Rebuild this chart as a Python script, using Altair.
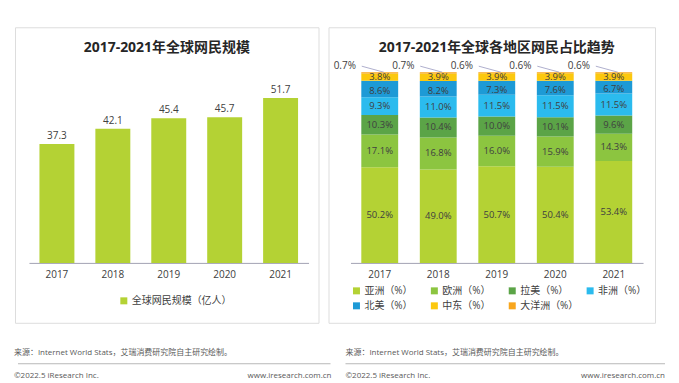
import altair as alt
import pandas as pd

FONT = "Open Sans, Noto Sans CJK SC"

# ---------------- data ----------------
years = ["2017", "2018", "2019", "2020", "2021"]
netizens = [37.3, 42.1, 45.4, 45.7, 51.7]
left_series = "全球网民规模（亿人）"

regions = ["亚洲（%）", "欧洲（%）", "拉美（%）", "非洲（%）", "北美（%）", "中东（%）", "大洋洲（%）"]
asia = [50.2, 49.0, 50.7, 50.4, 53.4]
europe = [17.1, 16.8, 16.0, 15.9, 14.3]
latam = [10.3, 10.4, 10.0, 10.1, 9.6]
africa = [9.3, 11.0, 11.5, 11.5, 11.5]
namerica = [8.6, 8.2, 7.3, 7.6, 6.7]
mideast = [3.8, 3.9, 3.9, 3.9, 3.9]
oceania = [0.7, 0.7, 0.6, 0.6, 0.6]
region_colors = ["#b4d234", "#8cc540", "#5ba447", "#2bbbee", "#1d9ad6", "#fcc80e", "#f8a61d"]

left_title = "2017-2021年全球网民规模"
right_title = "2017-2021年全球各地区网民占比趋势"
source_text = "来源：Internet World Stats，艾瑞消费研究院自主研究绘制。"
copyright_text = "©2022.5 iResearch Inc."
site_text = "www.iresearch.com.cn"

PANEL_H = 296
LEFT_W = 304
RIGHT_W = 327
BORDER = "#c8dd85"
AXIS_C = "#a3a3b3"
TEXT_C = "#404040"
FOOT_C = "#595959"

# ---------------- left panel ----------------
left_df = pd.DataFrame({"year": years, "value": netizens, "series": left_series})

xL = alt.X("year:N", title=None,
           scale=alt.Scale(range=[14, 294], paddingInner=0.375, paddingOuter=0.1875),
           axis=alt.Axis(labelAngle=0, offset=-60, ticks=False, domainColor=AXIS_C,
                         labelFontSize=10, labelColor=TEXT_C, labelFont=FONT, labelPadding=7))
yL = alt.Y("value:Q", scale=alt.Scale(domain=[0, 50], range=[236, 76.4], nice=False), axis=None)

left_bars = alt.Chart(left_df).mark_bar().encode(
    x=xL, y=yL,
    color=alt.Color("series:N", scale=alt.Scale(domain=[left_series], range=[region_colors[0]]),
                    legend=alt.Legend(orient="none", legendX=104, legendY=269, title=None,
                                      symbolType="square", symbolSize=49, symbolStrokeWidth=0,
                                      labelFontSize=10, labelColor=TEXT_C, labelFont=FONT,
                                      labelOffset=3, padding=0)))
left_labels = alt.Chart(left_df).mark_text(dy=-8, fontSize=10, color=TEXT_C, font=FONT).encode(
    x=alt.X("year:N"), y=alt.Y("value:Q"), text=alt.Text("value:Q", format=".1f"))


def footer(src_x, line_x1, line_x2, copy_x, site_x):
    src = alt.Chart(pd.DataFrame({"t": [source_text]})).mark_text(
        align="left", baseline="middle", fontSize=8, color=FOOT_C, font=FONT
    ).encode(x=alt.value(src_x), y=alt.value(326), text="t:N")
    line = alt.Chart(pd.DataFrame({"t": [0]})).mark_rule(color="#a6a6a6", strokeWidth=0.8).encode(
        x=alt.value(line_x1), x2=alt.value(line_x2), y=alt.value(337))
    cp = alt.Chart(pd.DataFrame({"t": [copyright_text]})).mark_text(
        align="left", baseline="middle", fontSize=8, color=FOOT_C, font=FONT
    ).encode(x=alt.value(copy_x), y=alt.value(349), text="t:N")
    site = alt.Chart(pd.DataFrame({"t": [site_text]})).mark_text(
        align="right", baseline="middle", fontSize=8, color=FOOT_C, font=FONT
    ).encode(x=alt.value(site_x), y=alt.value(349), text="t:N")
    return [src, line, cp, site]


left = alt.layer(left_bars, left_labels, *footer(-1, 3, 316, -1, 317)).properties(
    width=LEFT_W, height=PANEL_H,
    title=alt.TitleParams(left_title, fontSize=14, fontWeight="bold", font=FONT, color="#262626",
                          anchor="middle", frame="group", offset=-28))

# ---------------- right panel ----------------
series_list = [asia, europe, latam, africa, namerica, mideast, oceania]
rows = []
for i, yr in enumerate(years):
    for k, (reg, vals) in enumerate(zip(regions, series_list)):
        rows.append({"year": yr, "region": reg, "value": vals[i], "order": k,
                     "label": f"{vals[i]:.1f}%"})
right_df = pd.DataFrame(rows)

xR = alt.X("year:N", title=None,
           scale=alt.Scale(range=[22, 315], paddingInner=0.37, paddingOuter=0.185),
           axis=alt.Axis(labelAngle=0, offset=-60, ticks=False, domainColor=AXIS_C,
                         labelFontSize=10, labelColor=TEXT_C, labelFont=FONT, labelPadding=7))
yscaleR = alt.Scale(domain=[0, 100], range=[236, 45], nice=False)

base = alt.Chart(right_df).transform_stack(
    stack="value", groupby=["year"], as_=["y0", "y1"],
    sort=[alt.SortField("order", order="ascending")]
).transform_calculate(mid="(datum.y0 + datum.y1) / 2")

right_bars = base.mark_bar().encode(
    x=xR,
    y=alt.Y("y0:Q", scale=yscaleR, axis=None), y2="y1:Q",
    color=alt.Color("region:N", scale=alt.Scale(domain=regions, range=region_colors),
                    legend=alt.Legend(orient="none", legendX=23, legendY=259, title=None,
                                      columns=4, direction="horizontal", gridAlign="all",
                                      symbolType="square", symbolSize=49, symbolStrokeWidth=0,
                                      labelFontSize=10, labelColor=TEXT_C, labelFont=FONT,
                                      labelOffset=3, columnPadding=6, rowPadding=5, padding=0)))

right_labels = base.transform_filter("datum.order < 6 && datum.order != 4").mark_text(
    fontSize=9.5, color=TEXT_C, font=FONT, baseline="middle").encode(
    x=alt.X("year:N"), y=alt.Y("mid:Q"), text="label:N")
na_labels = base.transform_filter("datum.order == 4").mark_text(
    fontSize=9.5, color=TEXT_C, font=FONT, baseline="middle", dy=2).encode(
    x=alt.X("year:N"), y=alt.Y("mid:Q"), text="label:N")

ocean = base.transform_filter("datum.order == 6")
ocean_labels = ocean.mark_text(fontSize=10, color=TEXT_C, font=FONT, dx=-35, dy=-6,
                               baseline="middle").encode(
    x=alt.X("year:N"), y=alt.Y("y1:Q"), text="label:N")
ocean_lines = ocean.mark_rule(color="#9a9ac0", strokeWidth=0.8, xOffset=4, x2Offset=-18,
                              y2Offset=-6).encode(
    x=alt.X("year:N"), y=alt.Y("y1:Q"), x2="year:N", y2="y1:Q")

right = alt.layer(right_bars, right_labels, na_labels, ocean_lines, ocean_labels,
                  *footer(17, 17, 337, 17, 337)).properties(
    width=RIGHT_W, height=PANEL_H,
    title=alt.TitleParams(right_title, fontSize=14, fontWeight="bold", font=FONT, color="#262626",
                          anchor="middle", frame="group", offset=-28, dx=5))

chart = alt.hconcat(left, right, spacing=10, bounds="flush").resolve_scale(
    x="independent", y="independent", color="independent"
).resolve_legend(color="independent").properties(
    padding={"left": 5, "top": 18, "right": 5, "bottom": 0}
).configure_view(
    stroke=BORDER, strokeWidth=2, cornerRadius=20
).configure(font=FONT)

chart.save("out.html", embed_options={"renderer": "svg", "actions": False})
